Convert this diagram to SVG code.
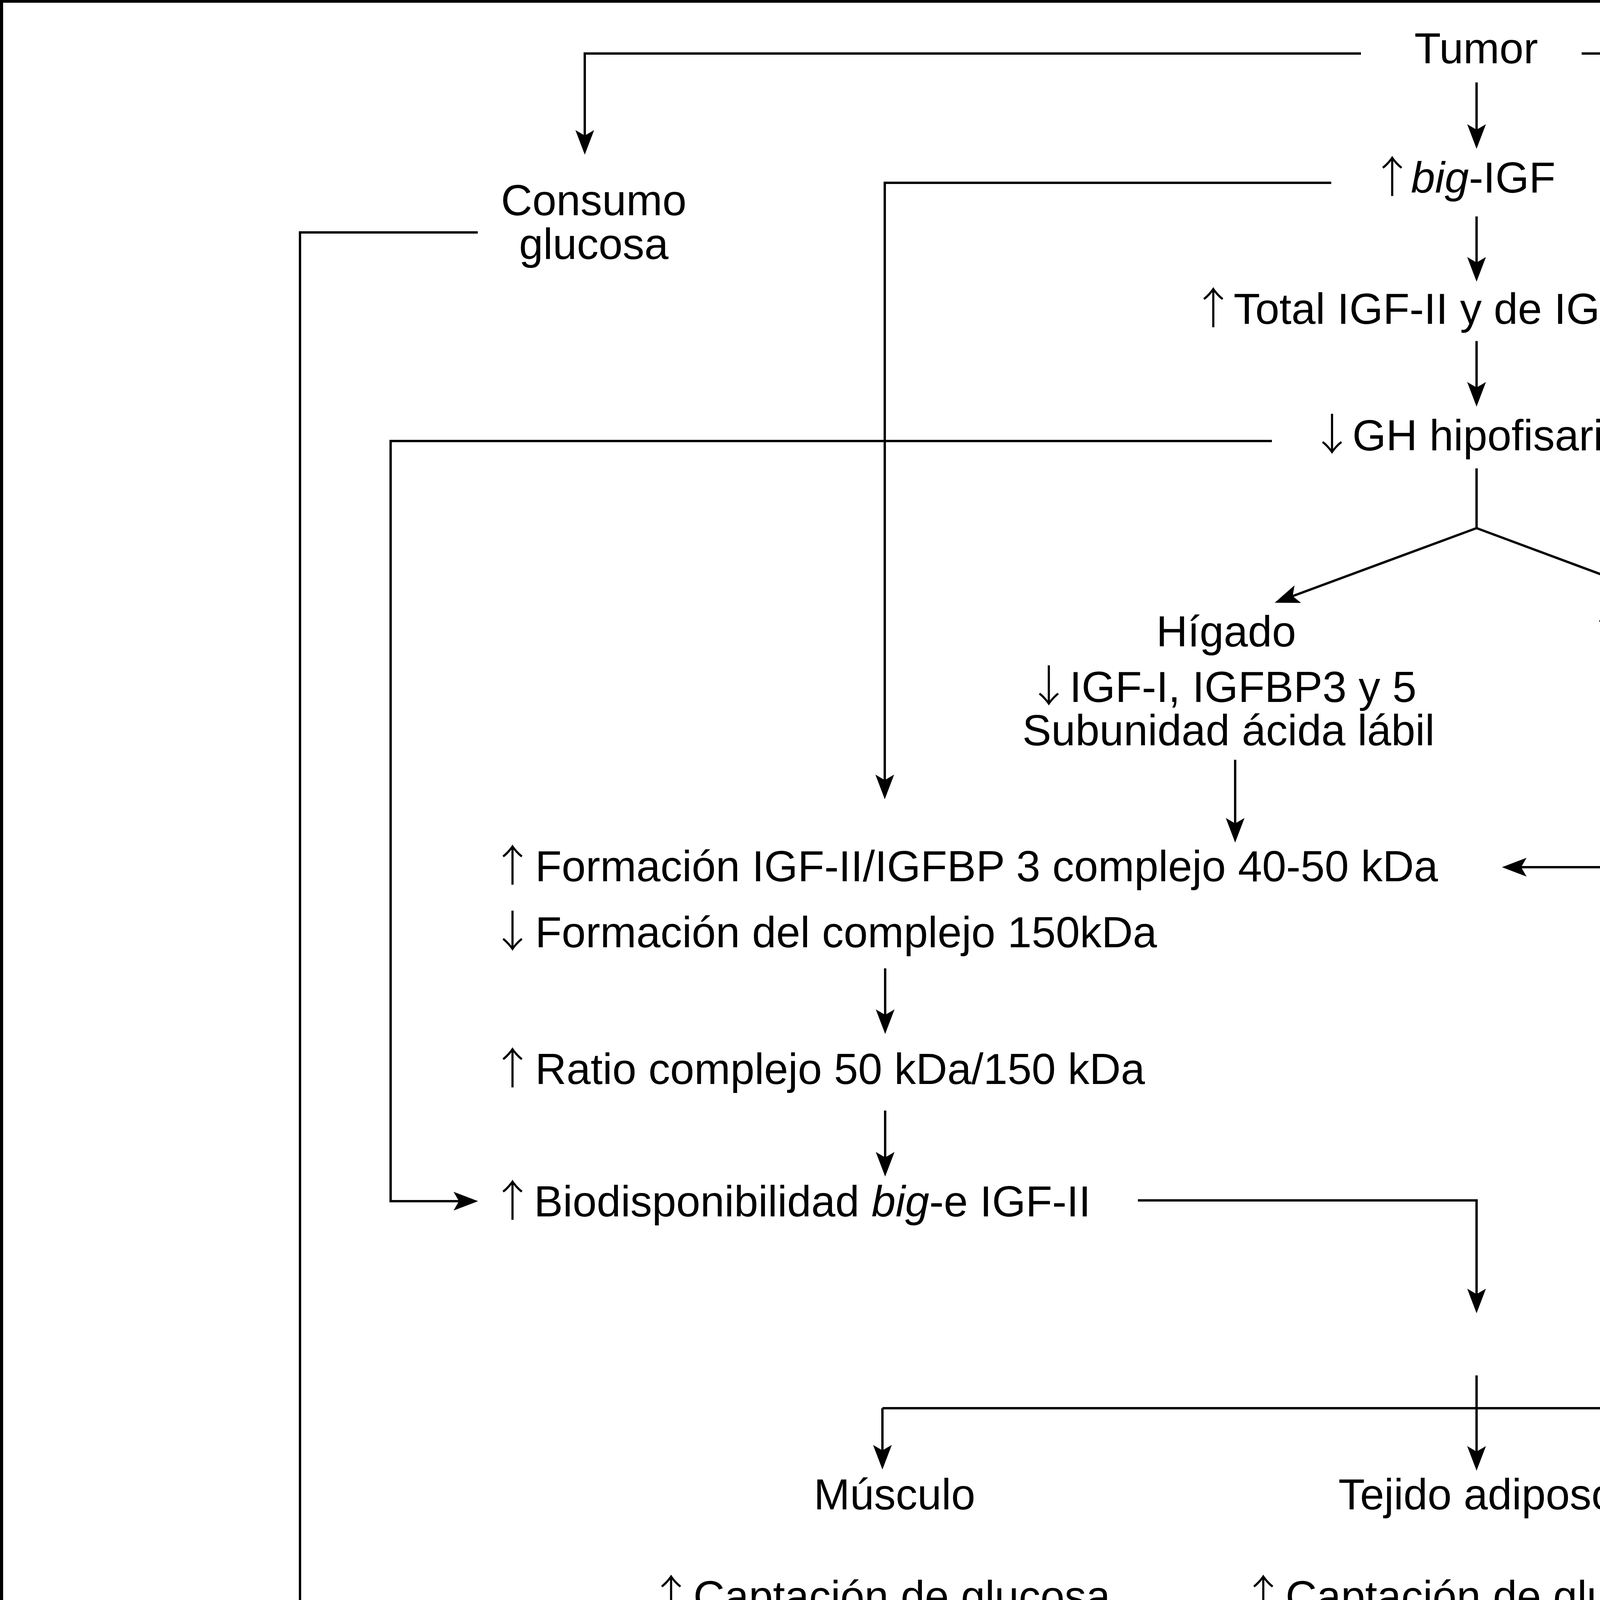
<svg xmlns="http://www.w3.org/2000/svg" width="6614" height="4965" viewBox="0 0 6614 4965">
<style>
.t{font-family:'Liberation Sans',Arial,Helvetica,sans-serif;font-size:111px;fill:#000}
.m{text-anchor:middle}
.ar{font-family:'Noto Sans CJK JP','Liberation Sans',sans-serif;font-weight:300;text-anchor:middle}
.i{font-style:italic}
.c{fill:none;stroke:#000;stroke-width:6;marker-end:url(#ah)}
.n{fill:none;stroke:#000;stroke-width:6}
</style>
<defs>
<marker id="ah" markerUnits="userSpaceOnUse" markerWidth="80" markerHeight="60" viewBox="-70 -30 80 60" refX="-20" refY="0" orient="auto">
<path d="M0,0 L-63,-24 L-49,0 L-63,24 Z" fill="#000"/>
</marker>
</defs>
<rect x="0" y="0" width="6614" height="4965" fill="#fff"/>
<rect x="4" y="3" width="6606" height="4958" fill="none" stroke="#000" stroke-width="8"/>

<g id="connectors">
<path class="c" d="M3484,137 H1497 V376"/>
<path class="c" d="M4049,137 H5390 V378"/>
<path class="c" d="M3780,211 V361"/>
<path class="c" d="M3780,554 V701"/>
<path class="c" d="M3780,873 V1021"/>
<path class="c" d="M3408,468 H2265 V2026"/>
<path class="c" d="M1223,595 H768 V4819 H3357"/>
<path class="c" d="M3256,1129 H1000 V3075 H1204"/>
<path class="n" d="M3780,1199 V1352"/>
<path class="c" d="M3780,1352 L3282,1536"/>
<path class="c" d="M3780,1352 L4275,1536"/>
<path class="c" d="M3162,1945 V2137"/>
<path class="n" d="M4428,1713 V2220"/>
<path class="c" d="M5390,643 V2220 H3865"/>
<path class="c" d="M2266,2479 V2627"/>
<path class="c" d="M2266,2843 V2992"/>
<path class="c" d="M2913,3073 H3780 V3342"/>
<path class="c" d="M3780,3521 V3745"/>
<path class="n" d="M2259,3605 H5378"/>
<path class="c" d="M2259,3605 V3742"/>
<path class="c" d="M5378,3605 V3736"/>
<path class="c" d="M5378,4212 V4819 H4222"/>
</g>

<g id="tumor"><text class="t m" x="3779" y="162">Tumor</text></g>
<g id="big-igf"><text class="t" y="493"><tspan class="ar" x="3564">↑</tspan><tspan x="3612"><tspan class="i">big</tspan>-IGF</tspan></text></g>
<g id="consumo"><text class="t m" x="1520" y="551">Consumo</text><text class="t m" x="1520" y="663">glucosa</text></g>
<g id="igfbp-1-6"><text class="t" y="551"><tspan class="ar" x="4829">↑</tspan><tspan x="4901">IGFBP1, 2, 3, 4, 6</tspan></text></g>
<g id="total-igf"><text class="t" y="829"><tspan class="ar" x="3106">↑</tspan><tspan x="3158">Total IGF-II y de IGF-II libre</tspan></text></g>
<g id="gh"><text class="t" y="1153"><tspan class="ar" x="3410">↓</tspan><tspan x="3462">GH hipofisaria</tspan></text></g>
<g id="higado1">
<text class="t m" x="3139" y="1655">Hígado</text>
<text class="t" y="1797"><tspan class="ar" x="2685">↓</tspan><tspan x="2738">IGF-I, IGFBP3 y 5</tspan></text>
<text class="t m" x="3145" y="1908">Subunidad ácida lábil</text>
</g>
<g id="igfbp12"><text class="t" y="1655"><tspan class="ar" x="4119">↑</tspan><tspan x="4179">IGFBP 1 y 2</tspan></text></g>
<g id="formacion">
<text class="t" y="2256"><tspan class="ar" x="1312">↑</tspan><tspan x="1370">Formación IGF-II/IGFBP 3 complejo 40-50 kDa</tspan></text>
<text class="t" y="2425"><tspan class="ar" x="1312">↓</tspan><tspan x="1370">Formación del complejo 150kDa</tspan></text>
</g>
<g id="ratio"><text class="t" y="2775"><tspan class="ar" x="1312">↑</tspan><tspan x="1370">Ratio complejo 50 kDa/150 kDa</tspan></text></g>
<g id="biodisp"><text class="t" y="3114"><tspan class="ar" x="1312">↑</tspan><tspan x="1367">Biodisponibilidad <tspan class="i">big</tspan>-e IGF-II</tspan></text></g>
<g id="musculo">
<text class="t m" x="2290" y="3864">Músculo</text>
<text class="t" y="4125"><tspan class="ar" x="1718">↑</tspan><tspan x="1775">Captación de glucosa</tspan></text>
</g>
<g id="tejido">
<text class="t m" x="3781" y="3864">Tejido adiposo</text>
<text class="t" y="4125"><tspan class="ar" x="3234">↑</tspan><tspan x="3291">Captación de glucosa</tspan></text>
<text class="t" y="4406"><tspan class="ar" x="3587">↓</tspan><tspan x="3644">Lipólisis</tspan></text>
<text class="t" y="4544"><tspan class="ar" x="3272">↓</tspan><tspan x="3322">Ácidos grasos libres</tspan></text>
</g>
<g id="higado2">
<text class="t m" x="5381" y="3864">Hígado</text>
<text class="t" y="4125"><tspan class="ar" x="4834">↓</tspan><tspan x="4875">Producción de glucosa</tspan></text>
</g>
<g id="hipoglucemia"><text class="t m" x="3785" y="4855">Hipoglucemia</text></g>
</svg>
